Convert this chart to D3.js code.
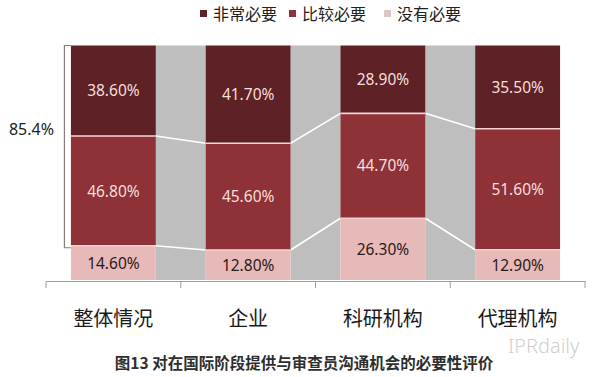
<!DOCTYPE html>
<html>
<head>
<meta charset="utf-8">
<script src="https://cdn.jsdelivr.net/npm/d3@7"></script>
<style>
  body { margin: 0; background: #fff; }
  svg { display: block; font-family: "Noto Sans", "Noto Sans CJK SC", sans-serif; }
</style>
</head>
<body>
<svg id="chart" width="600" height="377"></svg>
<script>
// data
const categories = ["整体情况", "企业", "科研机构", "代理机构"];
const seriesNames = ["非常必要", "比较必要", "没有必要"];
const veryNecessary = [38.6, 41.7, 28.9, 35.5];
const fairlyNecessary = [46.8, 45.6, 44.7, 51.6];
const notNecessary = [14.6, 12.8, 26.3, 12.9];
const title = "图13 对在国际阶段提供与审查员沟通机会的必要性评价";

const colors = {
  "非常必要": "#5e2125",
  "比较必要": "#8e3237",
  "没有必要": "#e7b9b8"
};
const legendColors = ["#5e2125", "#8e3237", "#dcc6c8"];
const textColors = {
  "非常必要": "#f6dedd",
  "比较必要": "#f6dedd",
  "没有必要": "#2b1a1a"
};

const rows = categories.map((c, i) => ({
  cat: c,
  "非常必要": veryNecessary[i],
  "比较必要": fairlyNecessary[i],
  "没有必要": notNecessary[i]
}));

// stack bottom -> top
const keys = ["没有必要", "比较必要", "非常必要"];
const stacked = d3.stack().keys(keys).offset(d3.stackOffsetExpand)(rows);

const svg = d3.select("#chart");

const x = d3.scaleBand()
  .domain(categories)
  .range([46, 585])
  .paddingInner(0.37)
  .paddingOuter(0.185);

const y = d3.scaleLinear().domain([0, 1]).range([280, 45.5]);

// gray fill in the gaps between bars
svg.append("g")
  .selectAll("rect")
  .data(d3.pairs(categories))
  .join("rect")
  .attr("x", (d) => x(d[0]) + x.bandwidth())
  .attr("width", (d) => x(d[1]) - x(d[0]) - x.bandwidth())
  .attr("y", y(1))
  .attr("height", y(0) - y(1))
  .attr("fill", "#bfbebf");

// series lines (white) joining the segment edges
const inner = stacked.slice(0, 2); // tops of 没有必要 and 比较必要
inner.forEach((layer) => {
  svg.append("g")
    .selectAll("line")
    .data(d3.pairs(layer))
    .join("line")
    .attr("x1", (d) => x(d[0].data.cat) + x.bandwidth())
    .attr("x2", (d) => x(d[1].data.cat))
    .attr("y1", (d) => y(d[0][1]))
    .attr("y2", (d) => y(d[1][1]))
    .attr("stroke", "#ffffff")
    .attr("stroke-width", 1.6);
});

// bars
const layers = svg.append("g")
  .selectAll("g")
  .data(stacked)
  .join("g")
  .attr("fill", (d) => colors[d.key]);

layers.selectAll("rect")
  .data((d) => d)
  .join("rect")
  .attr("x", (d) => x(d.data.cat))
  .attr("width", x.bandwidth())
  .attr("y", (d) => y(d[1]))
  .attr("height", (d) => y(d[0]) - y(d[1]));

// thin light separators between segments
inner.forEach((layer) => {
  svg.append("g")
    .selectAll("line")
    .data(layer)
    .join("line")
    .attr("x1", (d) => x(d.data.cat))
    .attr("x2", (d) => x(d.data.cat) + x.bandwidth())
    .attr("y1", (d) => y(d[1]))
    .attr("y2", (d) => y(d[1]))
    .attr("stroke", "#f4d4d3")
    .attr("stroke-width", 1.6);
});

// value labels
const fmt = (v) => d3.format(".2f")(v) + "%";
stacked.forEach((layer) => {
  svg.append("g")
    .selectAll("text")
    .data(layer)
    .join("text")
    .attr("x", (d) => x(d.data.cat) + x.bandwidth() / 2)
    .attr("y", (d) => (y(d[0]) + y(d[1])) / 2 + 1.5)
    .attr("text-anchor", "middle")
    .attr("dominant-baseline", "middle")
    .attr("font-size", 15.5)
    .attr("fill", textColors[layer.key])
    .text((d) => fmt(d.data[layer.key]));
});

// x axis with separators between categories
const axis = svg.append("g")
  .attr("transform", "translate(0,281)")
  .call(d3.axisBottom(x).tickSize(0).tickFormat(""));
axis.select(".domain").attr("stroke", "#9d9d9d");
const bounds = categories.map((c) => x(c) - x.step() * x.paddingInner() / 2);
bounds.push(x.range()[1]);
axis.selectAll(".sep")
  .data(bounds)
  .join("line")
  .attr("class", "sep")
  .attr("x1", (d) => d)
  .attr("x2", (d) => d)
  .attr("y1", 0)
  .attr("y2", 7)
  .attr("stroke", "#9d9d9d");

svg.append("g")
  .selectAll("text")
  .data(categories)
  .join("text")
  .attr("x", (d) => x(d) + x.bandwidth() / 2)
  .attr("y", 321)
  .attr("text-anchor", "middle")
  .attr("dominant-baseline", "middle")
  .attr("font-family", "'Noto Sans CJK SC', sans-serif")
  .attr("font-size", 20)
  .attr("fill", "#1a1a1a")
  .text((d) => d);

// bracket for 非常必要 + 比较必要 of first bar
const first = categories[0];
const topY = y(1);
const botY = y(stacked[0][0][1]) + 2;
const bx = x(first) - 6.5;
svg.append("path")
  .attr("d", `M${x(first)},${topY}H${bx}V${botY}H${x(first)}`)
  .attr("fill", "none")
  .attr("stroke", "#8a7c7d")
  .attr("stroke-width", 1.2);

svg.append("text")
  .attr("x", 54)
  .attr("y", 131)
  .attr("text-anchor", "end")
  .attr("dominant-baseline", "middle")
  .attr("font-size", 16)
  .attr("fill", "#222")
  .text(d3.format(".1f")(veryNecessary[0] + fairlyNecessary[0]) + "%");

// legend
const legendX = [200, 289, 384];
const legend = svg.append("g")
  .selectAll("g")
  .data(seriesNames)
  .join("g")
  .attr("transform", (d, i) => `translate(${legendX[i]},0)`);
legend.append("rect")
  .attr("x", 0)
  .attr("y", 10)
  .attr("width", 7)
  .attr("height", 7)
  .attr("fill", (d, i) => legendColors[i]);
legend.append("text")
  .attr("x", 13)
  .attr("y", 16)
  .attr("dominant-baseline", "middle")
  .attr("font-family", "'Noto Sans CJK SC', sans-serif")
  .attr("font-size", 16)
  .attr("fill", "#222")
  .text((d) => d);

// watermark
svg.append("text")
  .attr("x", 508)
  .attr("y", 348)
  .attr("dominant-baseline", "middle")
  .attr("font-size", 20)
  .attr("font-weight", 300)
  .attr("fill", "#cfcfcf")
  .text("IPRdaily");

// title
svg.append("text")
  .attr("x", 304)
  .attr("y", 365)
  .attr("text-anchor", "middle")
  .attr("dominant-baseline", "middle")
  .attr("font-family", "'Noto Sans CJK SC', sans-serif")
  .attr("font-size", 15.5)
  .attr("font-weight", "bold")
  .attr("fill", "#2e2e2e")
  .text(title);
</script>
</body>
</html>
